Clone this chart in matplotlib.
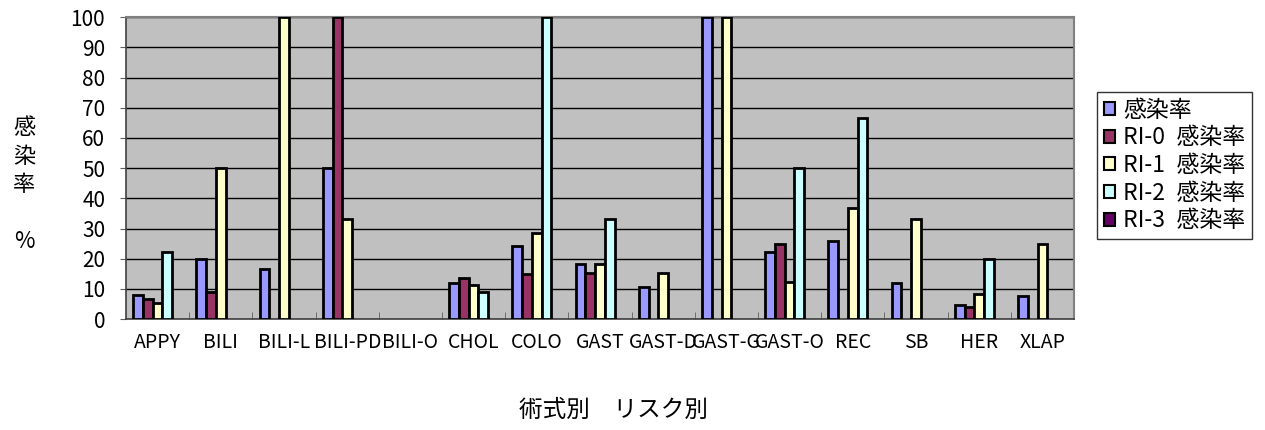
import numpy as np
import matplotlib.pyplot as plt
from matplotlib.patches import Patch

plt.rcParams['font.family'] = ['Noto Sans CJK JP', 'DejaVu Sans']

categories = ['APPY', 'BILI', 'BILI-L', 'BILI-PD', 'BILI-O', 'CHOL', 'COLO', 'GAST',
              'GAST-D', 'GAST-G', 'GAST-O', 'REC', 'SB', 'HER', 'XLAP']
series_names = ['感染率', 'RI-0 感染率', 'RI-1 感染率', 'RI-2 感染率', 'RI-3 感染率']

rate_all = [7.9, 20.0, 16.7, 50.0, 0, 12.0, 24.1, 18.4, 10.5, 100.0, 22.3, 25.8, 11.8, 4.6, 7.7]
rate_ri0 = [6.5, 8.8, 0, 100.0, 0, 13.7, 14.8, 15.3, 0, 0, 25.0, 0, 0, 4.1, 0]
rate_ri1 = [5.2, 50.0, 100.0, 33.3, 0, 11.2, 28.6, 18.1, 15.3, 100.0, 12.3, 36.8, 33.3, 8.2, 25.0]
rate_ri2 = [22.3, 0, 0, 0, 0, 9.0, 100.0, 33.3, 0, 0, 50.0, 66.6, 0, 20.0, 0]
rate_ri3 = [0] * 15

colors = ['#9999FF', '#993366', '#FFFFCC', '#CCFFFF', '#660066']

fig = plt.figure(figsize=(12.65, 4.30), dpi=100)
ax = fig.add_axes([0.0996, 0.258, 0.7494, 0.702])
ax.set_facecolor('#C0C0C0')

x = np.arange(len(categories))
w = 1 / 6.5
all_series = [rate_all, rate_ri0, rate_ri1, rate_ri2, rate_ri3]
for i, vals in enumerate(all_series):
    v = np.array(vals, dtype=float)
    mask = v > 0
    ax.bar(x[mask] + (i - 2) * w, v[mask], width=w, color=colors[i],
           edgecolor='black', linewidth=2.0, zorder=3)

ax.set_xlim(-0.5, len(categories) - 0.5)
ax.set_ylim(0, 100)
ax.set_yticks(np.arange(0, 101, 10))
ax.yaxis.grid(True, color='black', linewidth=1.0, zorder=1)
ax.set_axisbelow(True)

ax.set_xticks(x)
ax.set_xticklabels(categories, fontsize=14)
ax.tick_params(axis='x', which='major', length=0, pad=9)
ax.set_xticks(np.arange(0.5, len(categories) - 0.5, 1), minor=True)
ax.tick_params(axis='x', which='minor', direction='in', length=5, color='#606060')
ax.tick_params(axis='y', labelsize=15, length=4, color='#606060', pad=11)

for s in ['top', 'right']:
    ax.spines[s].set_color('#808080')
    ax.spines[s].set_linewidth(1.5)
for s in ['left', 'bottom']:
    ax.spines[s].set_color('#404040')
    ax.spines[s].set_linewidth(1.2)

fig.text(0.485, 0.045, '術式別\u3000リスク別', fontsize=17, ha='center', va='center')
fig.text(0.019, 0.571, '感\n染\n率\n\n%', fontsize=16, ha='center', va='center',
         linespacing=1.3)

handles = [Patch(facecolor=c, edgecolor='black', linewidth=1.5) for c in colors]
leg = fig.legend(handles, series_names, loc='upper left',
                 bbox_to_anchor=(0.867, 0.786), fontsize=16.5, frameon=True,
                 fancybox=False, handlelength=0.5, handleheight=0.5,
                 handletextpad=0.35, borderpad=0.3, labelspacing=0.2,
                 borderaxespad=0)
leg.get_frame().set_edgecolor('black')
leg.get_frame().set_linewidth(1.0)
for t in leg.get_texts():
    t.set_text(t.get_text().replace(' ', '\u2002'))

fig.savefig('out.png', dpi=100)
